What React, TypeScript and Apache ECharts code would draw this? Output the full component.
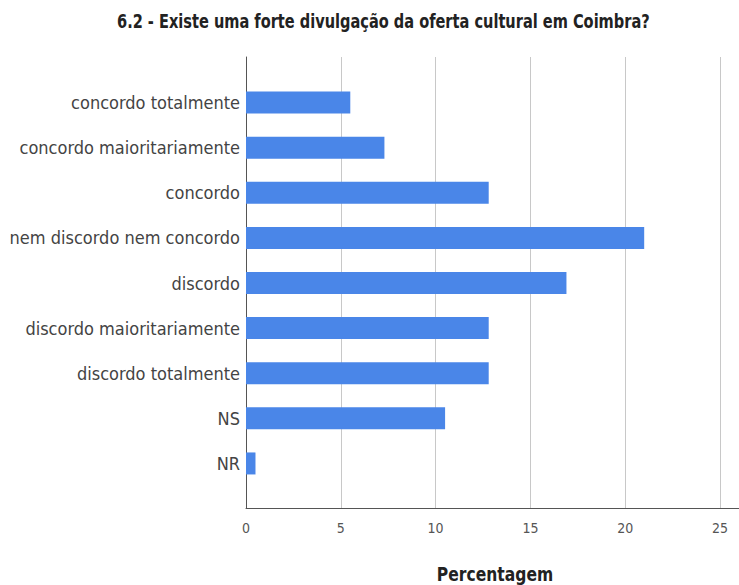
import React, { useEffect, useRef } from "react";
import * as echarts from "echarts";

const categories = [
  "concordo totalmente",
  "concordo maioritariamente",
  "concordo",
  "nem discordo nem concordo",
  "discordo",
  "discordo maioritariamente",
  "discordo totalmente",
  "NS",
  "NR",
];
const values = [5.5, 7.3, 12.8, 21.0, 16.9, 12.8, 12.8, 10.5, 0.5];
const xTicks = [0, 5, 10, 15, 20, 25];
const titleText = "6.2 - Existe uma forte divulgação da oferta cultural em Coimbra?";
const xAxisTitle = "Percentagem";

const FONT = "'Liberation Sans Narrow', 'Arial Narrow', 'DejaVu Sans Condensed', sans-serif";

export default function App() {
  const ref = useRef<HTMLDivElement>(null);
  useEffect(() => {
    if (!ref.current) return;
    const chart = echarts.init(ref.current, undefined, { renderer: "svg" });
    const xMax = 26;
    chart.setOption({
      animation: false,
      backgroundColor: "#ffffff",
      graphic: [
        {
          type: "text",
          x: 117,
          y: 21,
          scaleX: 0.81,
          style: {
            text: titleText,
            fontFamily: FONT,
            fontSize: 20,
            fontWeight: "bold",
            fill: "#222",
            textAlign: "left",
            textVerticalAlign: "middle",
          },
        },
        {
          type: "text",
          x: 495,
          y: 574,
          scaleX: 0.865,
          style: {
            text: xAxisTitle,
            fontFamily: FONT,
            fontSize: 20,
            fontWeight: "bold",
            fill: "#222",
            textAlign: "center",
            textVerticalAlign: "middle",
          },
        },
      ],
      grid: [
        { left: 246, right: 0, top: 80, height: 406 },
        { left: 246, right: 0, top: 57, height: 451 },
      ],
      xAxis: [
        {
          gridIndex: 0,
          type: "value",
          min: 0,
          max: xMax,
          show: false,
        },
        {
          gridIndex: 1,
          type: "value",
          min: 0,
          max: xMax,
          interval: 5,
          axisLine: { show: true, lineStyle: { color: "#555", width: 1 } },
          axisTick: { show: false },
          splitLine: { show: true, lineStyle: { color: "#c8c8c8", width: 1 } },
          axisLabel: {
            margin: 13,
            fontFamily: FONT,
            fontSize: 14,
            color: "#555",
            showMaxLabel: false,
            formatter: (v: number) => (xTicks.includes(v) ? String(v) : ""),
          },
        },
      ],
      yAxis: [
        {
          gridIndex: 0,
          type: "category",
          data: categories,
          inverse: true,
          axisLine: { show: false },
          axisTick: { show: false },
          splitLine: { show: false },
          axisLabel: { margin: 6, fontFamily: FONT, fontSize: 18, color: "#444" },
        },
        {
          gridIndex: 1,
          type: "value",
          min: 0,
          max: 1,
          axisLine: { show: true, lineStyle: { color: "#555", width: 1 } },
          axisTick: { show: false },
          axisLabel: { show: false },
          splitLine: { show: false },
        },
      ],
      series: [
        {
          type: "bar",
          xAxisIndex: 0,
          yAxisIndex: 0,
          data: values,
          barWidth: 22,
          itemStyle: { color: "#4a86e8" },
          z: 5,
        },
      ],
    });
    return () => chart.dispose();
  }, []);
  return (
    <div
      ref={ref}
      style={{ position: "fixed", left: 0, top: 0, width: 739, height: 585 }}
    />
  );
}
